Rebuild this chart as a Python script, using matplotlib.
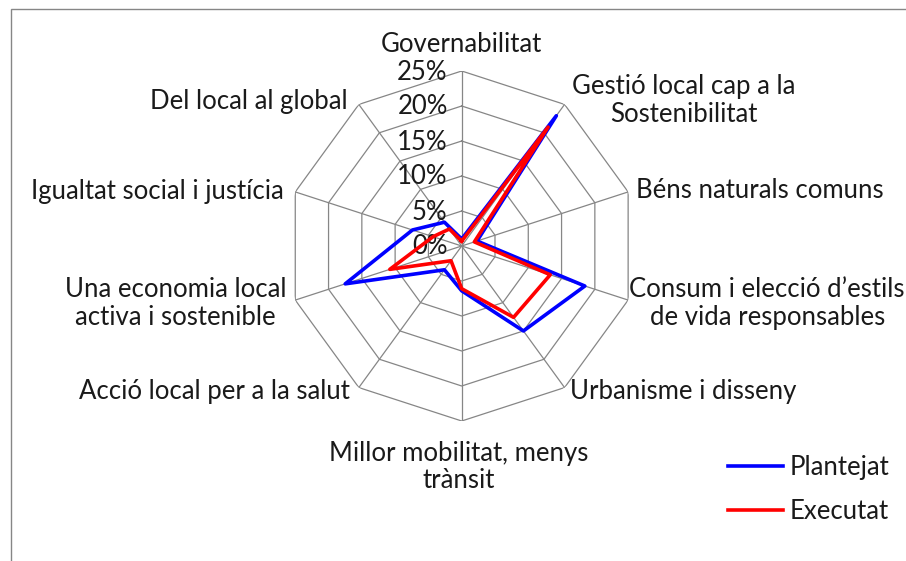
"""Radar chart: planned vs executed actions per Aalborg commitment."""
import numpy as np
import matplotlib

matplotlib.use("Agg")
import matplotlib.pyplot as plt  # noqa: E402

plt.rcParams["font.family"] = ["Lato", "DejaVu Sans"]

CATEGORIES = [
    "Governabilitat",
    "Gestió local cap a la\nSostenibilitat",
    "Béns naturals comuns",
    "Consum i elecció d’estils\nde vida responsables",
    "Urbanisme i disseny",
    "Millor mobilitat, menys\ntrànsit",
    "Acció local per a la salut",
    "Una economia local\nactiva i sostenible",
    "Igualtat social i justícia",
    "Del local al global",
]
PLANTEJAT = [1.0, 23.0, 2.3, 18.5, 15.0, 6.4, 4.2, 17.5, 7.4, 4.2]
EXECUTAT = [0.7, 21.0, 1.9, 13.3, 12.6, 6.1, 2.6, 10.8, 4.3, 3.0]
RINGS = [0, 5, 10, 15, 20, 25]

GRID = "#868686"
TEXT = "#1a1a1a"
FS = 18.5

W, H = 906, 561
fig = plt.figure(figsize=(W / 100, H / 100), dpi=100)
fig.patches.append(plt.Rectangle((11 / W, -0.1), 2, 1.1 - 9 / H, transform=fig.transFigure,
                                 fill=False, edgecolor=GRID, linewidth=1.0))

cx, cy, R = 461.7, 246, 175
ax = fig.add_axes([(cx - R) / W, (H - cy - R) / H, 2 * R / W, 2 * R / H], projection="polar")
ax.set_theta_zero_location("N")
ax.set_theta_direction(-1)
ax.set_ylim(0, 25)
ax.grid(False)
ax.set_xticks([])
ax.set_yticks([])
ax.spines["polar"].set_visible(False)
ax.patch.set_alpha(0)

n = len(CATEGORIES)
theta = np.arange(n) * 2 * np.pi / n
closed = np.append(theta, theta[0])

for v in RINGS[1:]:
    ax.plot(closed, [v] * (n + 1), color=GRID, lw=0.9, zorder=1)
for t in theta:
    ax.plot([t, t], [0, RINGS[-1]], color=GRID, lw=0.9, zorder=1)

for v in RINGS:
    ax.annotate(f"{v}%", (0, v), xytext=(-14, -1), textcoords="offset pixels",
                ha="right", va="center", fontsize=FS, color=TEXT, zorder=3)

ax.plot(closed, PLANTEJAT + PLANTEJAT[:1], color="#0000ff", lw=2.6, label="Plantejat", zorder=4)
ax.plot(closed, EXECUTAT + EXECUTAT[:1], color="#ff0000", lw=2.6, label="Executat", zorder=5)

# label offsets from the outer vertex, in pixels, and alignment
label_pos = [
    ((0, 26), "center"),
    ((119, 4), "center"),
    ((8, 1), "left"),
    ((139, -3), "center"),
    ((5, -4), "left"),
    ((-3, -46), "center"),
    ((-9, -4), "right"),
    ((-120, -3), "center"),
    ((-12, 0), "right"),
    ((-11, 3), "right"),
]
for t, lab, (off, ha) in zip(theta, CATEGORIES, label_pos):
    ax.annotate(lab, (t, RINGS[-1]), xytext=off, textcoords="offset pixels",
                ha=ha, va="center", multialignment="center", fontsize=FS, color=TEXT,
                linespacing=1.15, annotation_clip=False)

fig.legend(loc="center left", bbox_to_anchor=(728 / W, 1 - 489.5 / H), frameon=False,
           fontsize=FS, handlelength=2.15, handletextpad=0.25, labelspacing=0.75,
           borderpad=0, borderaxespad=0, labelcolor=TEXT)

fig.savefig("out.png", dpi=100)
